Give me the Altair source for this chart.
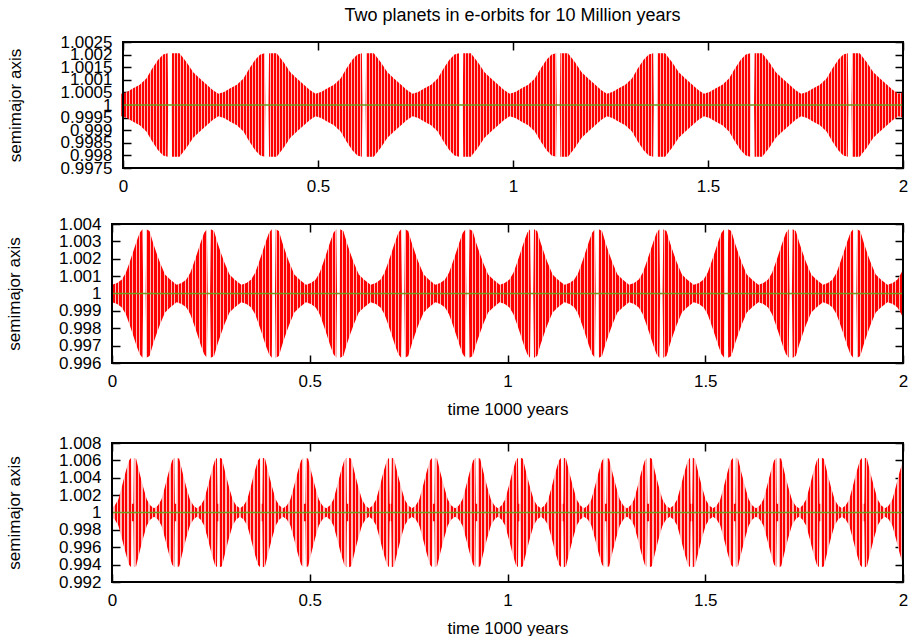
import math

import altair as alt
import pandas as pd

FONT = "Liberation Sans"
RED = "#ff0000"
PALE = "#ffb8b8"
GREEN = "#6aa121"

TITLE = "Two planets in e-orbits for 10 Million years"
Y_TITLE = "semimajor axis"
X_TITLE = "time 1000 years"

x_ticks = [0, 0.5, 1, 1.5, 2]
x_domain = [0, 2]

# Panel 1: beat centres (where the two lobes of each beat meet) and the
# half-width of the oscillation band around 1 versus distance from a centre.
p1_centres = [0.120, 0.369, 0.618, 0.867, 1.116, 1.365, 1.614, 1.864, 2.113]
p1_offsets = [-0.1245, -0.11, -0.095, -0.077, -0.06, -0.045, -0.03, -0.017, -0.0055, -0.004,
              0.004, 0.0055, 0.025, 0.043, 0.06, 0.077, 0.095, 0.11, 0.1245]
p1_amps = [0.00045, 0.00052, 0.00065, 0.0008, 0.00105, 0.00145, 0.0018, 0.002, 0.00205, 0.0,
           0.0, 0.00205, 0.00205, 0.0017, 0.0013, 0.00105, 0.0008, 0.0006, 0.00045]
p1_yticks = [0.9975, 0.998, 0.9985, 0.999, 0.9995, 1, 1.0005, 1.001, 1.0015, 1.002, 1.0025]

# Panel 2
p2_centres = [0.082, 0.245, 0.409, 0.572, 0.736, 0.899, 1.062, 1.226, 1.389, 1.553, 1.716, 1.879, 2.043]
p2_offsets = [-0.0817, -0.069, -0.057, -0.047, -0.039, -0.03, -0.02, -0.012, -0.005, -0.003,
              0.003, 0.005, 0.013, 0.022, 0.031, 0.039, 0.052, 0.065, 0.0817]
p2_amps = [0.0005, 0.0006, 0.0008, 0.0012, 0.0017, 0.0023, 0.003, 0.0035, 0.0037, 0.0,
           0.0, 0.0037, 0.0036, 0.0029, 0.0023, 0.0018, 0.0011, 0.0008, 0.0005]
p2_yticks = [0.996, 0.997, 0.998, 0.999, 1, 1.001, 1.002, 1.003, 1.004]

# Panel 3
p3_centres = [0.052, 0.161, 0.269, 0.378, 0.487, 0.596, 0.704, 0.813, 0.922, 1.030,
              1.139, 1.248, 1.356, 1.465, 1.574, 1.683, 1.791, 1.900, 2.009]
p3_offsets = [-0.0544, -0.045, -0.036, -0.027, -0.018, -0.009, -0.0035, -0.002,
              0.002, 0.0035, 0.009, 0.018, 0.027, 0.036, 0.045, 0.0544]
p3_amps = [0.0005, 0.0008, 0.0015, 0.003, 0.0046, 0.006, 0.0063, 0.001,
           0.001, 0.0063, 0.0062, 0.0045, 0.0029, 0.0015, 0.0008, 0.0005]
p3_yticks = [0.992, 0.994, 0.996, 0.998, 1, 1.002, 1.004, 1.006, 1.008]

# Unperturbed reference level
level_t = [0, 2]
level_a = [1, 1]

GROUP_W = 791  # common panel width; the first panel's axis starts 11 px further in


def band_table(centres, offsets, amps):
    rows = []
    for c in centres:
        for d, a in zip(offsets, amps):
            rows.append({"t": round(c + d, 5), "hi": 1 + a, "lo": 1 - a})
    return pd.DataFrame(rows).sort_values("t").reset_index(drop=True)


def striped_fill(span_px, period, red_px):
    # vertical red strokes with pale gaps, like a densely sampled oscillation;
    # offsets are fractions of the band's full drawn width
    n = math.ceil(span_px / period)
    stops = []
    for i in range(n):
        a = min(1.0, round(i * period / span_px, 6))
        b = min(1.0, round((i * period + red_px) / span_px, 6))
        c = min(1.0, round((i + 1) * period / span_px, 6))
        stops += [
            alt.GradientStop(color=RED, offset=a),
            alt.GradientStop(color=RED, offset=b),
            alt.GradientStop(color=PALE, offset=b),
            alt.GradientStop(color=PALE, offset=c),
        ]
    return alt.LinearGradient(gradient="linear", stops=stops, x1=0, x2=1, y1=0, y2=0)


AX = dict(tickSize=8, domain=False, grid=False, tickColor="black",
          tickWidth=1.5, labelFont=FONT, labelFontSize=17, labelColor="black",
          labelOverlap=False, labelFlush=False, titleFont=FONT, titleFontSize=17,
          titleFontWeight="normal", titleColor="black")


def panel(centres, offsets, amps, y_ticks, height, period, red_px, y_title_pad,
          inset=0, x_title=None, title=None):
    df = band_table(centres, offsets, amps)
    px_per_unit = (GROUP_W - inset) / 2.0
    span_px = (df["t"].max() - df["t"].min()) * px_per_unit
    y_domain = [y_ticks[0], y_ticks[-1]]
    x_scale = alt.Scale(domain=x_domain, range=[inset, GROUP_W], nice=False, zero=False)
    y_scale = alt.Scale(domain=y_domain, nice=False, zero=False)

    x_bottom = dict(orient="bottom", values=x_ticks, format="~g", labelPadding=10,
                    offset=-8, **AX)
    if x_title:
        x_bottom.update(title=x_title, titlePadding=12)
    else:
        # keeps a little room below the labels where the lower panels have a title
        x_bottom.update(title=" ", titlePadding=0, titleFontSize=4)

    band = alt.Chart(df).mark_area(
        color=striped_fill(span_px, period, red_px), clip=True, interpolate="linear"
    ).encode(
        x=alt.X("t:Q", scale=x_scale, axis=alt.Axis(**x_bottom)),
        y=alt.Y("hi:Q", scale=y_scale,
                axis=alt.Axis(orient="left", values=y_ticks, format="~g", labelPadding=11,
                              offset=-(8 + inset), title=Y_TITLE, titlePadding=y_title_pad,
                              **AX)),
        y2="lo:Q",
    )

    level = alt.Chart(pd.DataFrame({"t": level_t, "a": level_a})).mark_line(
        color=GREEN, strokeWidth=1.5, clip=True
    ).encode(
        x=alt.X("t:Q", scale=x_scale,
                axis=alt.Axis(orient="top", values=x_ticks, labels=False, title=None,
                              offset=-8, **AX)),
        y=alt.Y("a:Q", scale=y_scale,
                axis=alt.Axis(orient="right", values=y_ticks, labels=False, title=None,
                              offset=-8, **AX)),
    )

    # plot border drawn on the data extent
    frame = alt.Chart(pd.DataFrame({"t": [0]})).mark_rect(
        filled=False, stroke="black", strokeWidth=2
    ).encode(
        x=alt.XDatum(x_domain[0], axis=None),
        x2=alt.X2Datum(x_domain[1]),
        y=alt.YDatum(y_domain[0], axis=None),
        y2=alt.Y2Datum(y_domain[1]),
    )

    props = dict(width=GROUP_W, height=height)
    if title:
        props["title"] = alt.TitleParams(title, font=FONT, fontSize=18, fontWeight="normal",
                                         color="black", anchor="middle", offset=8, dx=5)
    return (
        alt.layer(band, level, frame)
        .resolve_axis(x="independent", y="independent")
        .properties(**props)
    )


top = panel(p1_centres, p1_offsets, p1_amps, p1_yticks, 126, 3.0, 2.0, 35.5, inset=11, title=TITLE)
middle = panel(p2_centres, p2_offsets, p2_amps, p2_yticks, 139, 3.5, 2.4, 34.5, x_title=X_TITLE)
bottom = panel(p3_centres, p3_offsets, p3_amps, p3_yticks, 139, 3.5, 2.4, 34.5, x_title=X_TITLE)

chart = alt.vconcat(top, middle, bottom, spacing=17).properties(
    padding={"left": 5, "top": 7, "right": 0, "bottom": 0}, background="white"
).configure_view(stroke=None)

chart.save("out.html", embed_options={"renderer": "svg", "actions": False})
